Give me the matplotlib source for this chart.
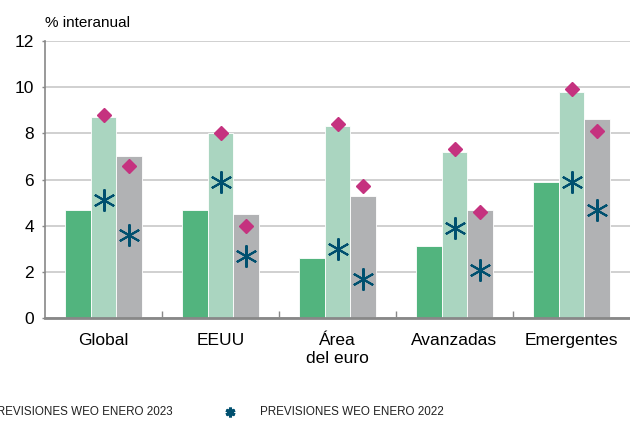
import numpy as np
import matplotlib
matplotlib.use("Agg")
import matplotlib.pyplot as plt
from matplotlib.lines import Line2D

categories = ["Global", "EEUU", "Área\ndel euro", "Avanzadas", "Emergentes"]
bar_2022 = [4.7, 4.7, 2.6, 3.1, 5.9]
bar_2023 = [8.7, 8.0, 8.3, 7.2, 9.8]
bar_2024 = [7.0, 4.5, 5.3, 4.7, 8.6]
weo23_2023 = [8.8, 8.0, 8.4, 7.3, 9.9]
weo23_2024 = [6.6, 4.0, 5.7, 4.6, 8.1]
weo22_2023 = [5.1, 5.9, 3.0, 3.9, 5.9]
weo22_2024 = [3.6, 2.7, 1.7, 2.1, 4.7]
yticks = [0, 2, 4, 6, 8, 10, 12]

c_dark = "#52b47e"
c_light = "#aad5c0"
c_grey = "#b1b2b4"
c_diam = "#c5327f"
c_star = "#00506f"

plt.rcParams["font.family"] = ["Liberation Sans", "DejaVu Sans"]

fig = plt.figure(figsize=(6.3, 4.21), dpi=100)
ax = fig.add_axes([45 / 630, 103 / 421, 585 / 630, 277 / 421])

x = np.arange(len(categories))
w = 0.22
ax.bar(x - w, bar_2022, w, color=c_dark, edgecolor="white", linewidth=0.6, zorder=2)
ax.bar(x, bar_2023, w, color=c_light, edgecolor="white", linewidth=0.6, zorder=2)
ax.bar(x + w, bar_2024, w, color=c_grey, edgecolor="white", linewidth=0.6, zorder=2)

ax.plot(x, weo23_2023, ls="none", marker="D", ms=7.5, color=c_diam, zorder=3)
ax.plot(x + w, weo23_2024, ls="none", marker="D", ms=7.5, color=c_diam, zorder=3)
star = (6, 2, 0)
ax.plot(x, weo22_2023, ls="none", marker=star, ms=16, mew=1.5, color=c_star, zorder=3)
ax.plot(x + w, weo22_2024, ls="none", marker=star, ms=16, mew=1.5, color=c_star, zorder=3)

ax.set_xlim(-0.5, 4.5)
ax.set_ylim(0, 12)
ax.set_yticks(yticks)
ax.set_yticklabels([str(t) for t in yticks], fontsize=12.5)
ax.tick_params(axis="y", length=2, width=1, color="#888888", pad=6)
ax.yaxis.grid(True, color="#c8c8c8", linewidth=1.2, zorder=0)
ax.set_axisbelow(True)

ax.set_xticks(x)
ax.set_xticklabels(categories, fontsize=12.5, linespacing=1.25)
ax.tick_params(axis="x", length=0, pad=11)
ax.set_xticks(np.arange(0.5, 4.5, 1), minor=True)
ax.tick_params(axis="x", which="minor", direction="in", length=5, width=1, color="#888888")

for s in ["top", "right"]:
    ax.spines[s].set_visible(False)
ax.spines["left"].set_color("#888888")
ax.spines["left"].set_linewidth(1.2)
ax.spines["bottom"].set_color("#888888")
ax.spines["bottom"].set_linewidth(2)

fig.text(45 / 630, 1 - 23 / 421, "% interanual", fontsize=11, va="center", ha="left")

# legend row (left entry runs off the canvas, as in the source)
ly = 1 - 412 / 421
fig.text(173 / 630, ly, "PREVISIONES WEO ENERO 2023", fontsize=8.4, va="center", ha="right",
         color="#222222")
fig.add_artist(Line2D([230 / 630], [ly], marker=star, ms=7, mew=2.2, color=c_star,
                      transform=fig.transFigure))
fig.text(260 / 630, ly, "PREVISIONES WEO ENERO 2022", fontsize=8.4, va="center", ha="left",
         color="#222222")

fig.savefig("out.png", dpi=100)
